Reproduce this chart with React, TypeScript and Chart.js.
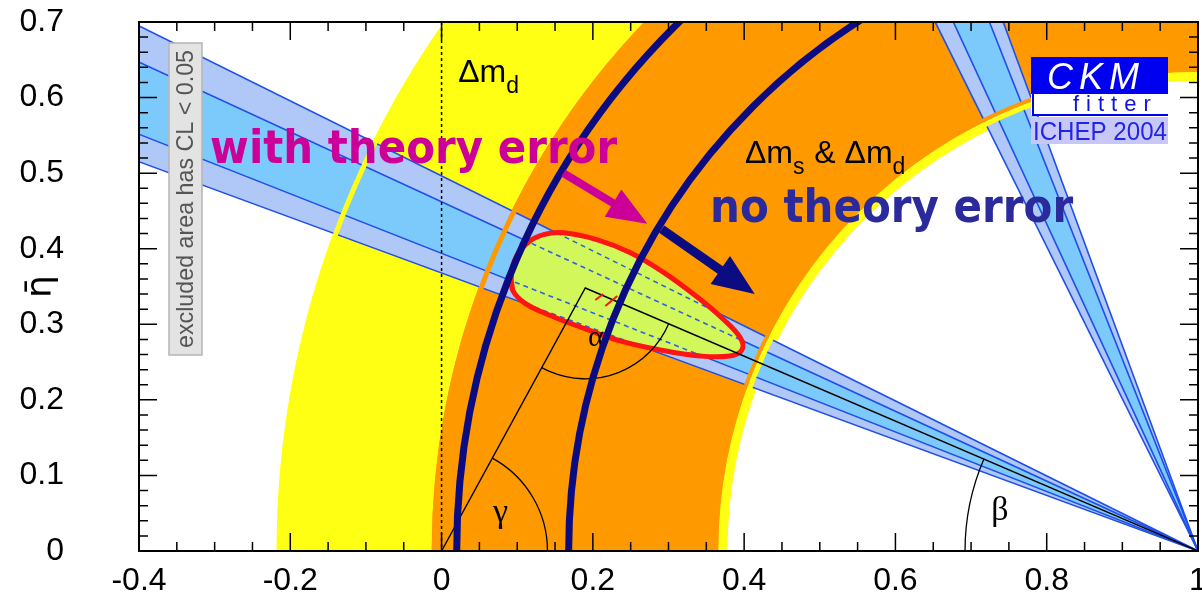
import { useEffect, useRef } from 'react';
import { Chart, registerables } from 'chart.js';

Chart.register(...registerables);

// ρ̄ / η̄ axis tick values
const rhoTicks = [-0.4, -0.2, 0, 0.2, 0.4, 0.6, 0.8, 1];
const etaTicks = [0, 0.1, 0.2, 0.3, 0.4, 0.5, 0.6, 0.7];

// sin2β: β (degrees) at the edges of the outer and inner bands
const betaOuter = [20.2, 26.4];
const betaInner = [21.5, 24.8];

// Δm_d (yellow) and Δm_s & Δm_d (orange) annuli around (1, 0): inner / outer radius
const dmdRing = [0.622, 1.218];
const dmsRing = [0.634, 1.013];
// Δm_s & Δm_d without theory error: bounding circles around (1, 0)
const noTheoryRadii = [0.832, 0.98];

// apex of the unitarity triangle
const apexRho = 0.19;
const apexEta = 0.348;

// global fit contour (with theory error)
const contourRho = [0.092, 0.099, 0.115, 0.136, 0.161, 0.205, 0.249, 0.293, 0.338, 0.371, 0.395, 0.397, 0.381, 0.342, 0.289, 0.236, 0.19, 0.143, 0.11, 0.094];
const contourEta = [0.366, 0.39, 0.409, 0.419, 0.421, 0.412, 0.395, 0.369, 0.336, 0.308, 0.282, 0.266, 0.258, 0.258, 0.266, 0.278, 0.294, 0.312, 0.328, 0.345];

// radii of the α, β, γ angle markers
const alphaArc = 0.12;
const betaArc = 0.308;
const gammaArc = 0.14;

const YELLOW = '#ffff14';
const ORANGE = '#ff9900';
const LIGHT = '#b0c8f8';
const SKY = '#7ccafc';
const EDGE = '#1f4fe8';
const NAVY = '#0b0b82';
const RED = '#ff1414';
const FIT_FILL = '#d2f75a';
const MAGENTA = '#cc0099';
const TEXT_NAVY = '#2a2a9c';
const CLEAR = 'rgba(0,0,0,0)';

const RAD = Math.PI / 180;
const corner = { x: 1, y: 0 };
const ray = (deg: number, len: number) => ({ x: 1 - len * Math.cos(deg * RAD), y: len * Math.sin(deg * RAD) });
const wedge = (a: number, b: number, len: number) => [corner, ray(a, len), ray(b, len), corner];

const datasets: any[] = [];
const addFill = (pts: any[], color: string) =>
  datasets.push({ data: pts, fill: 'shape', backgroundColor: color, borderColor: CLEAR, borderWidth: 0, pointRadius: 0, tension: 0 });
const addLine = (pts: any[], color: string, width: number) =>
  datasets.push({ data: pts, fill: false, borderColor: color, borderWidth: width, pointRadius: 0, tension: 0 });

// main sin2β band and its mirror solution (90° − β)
addFill(wedge(betaOuter[0], betaOuter[1], 2), LIGHT);
addFill(wedge(90 - betaOuter[0], 90 - betaOuter[1], 1), LIGHT);
addFill(wedge(betaInner[0], betaInner[1], 2), SKY);
addFill(wedge(90 - betaInner[0], 90 - betaInner[1], 1), SKY);
for (const b of [...betaOuter, ...betaInner]) {
  addLine([corner, ray(b, 2)], EDGE, 1.6);
  addLine([corner, ray(90 - b, 1)], EDGE, 1.6);
}
const EDGE_LAST = datasets.length - 1;

const contour = contourRho.map((x, i) => ({ x, y: contourEta[i] }));
const contourLoop = [contour[contour.length - 1], ...contour, contour[0]];
datasets.push({ data: contourLoop, fill: 'shape', backgroundColor: FIT_FILL, borderColor: CLEAR, borderWidth: 0, pointRadius: 0, tension: 0.4 });
const CONTOUR_FILL = datasets.length - 1;
datasets.push({ data: contourLoop, fill: false, borderColor: RED, borderWidth: 5, pointRadius: 0, tension: 0.4 });
// unitarity triangle
addLine([{ x: 0, y: 0 }, { x: apexRho, y: apexEta }, corner], '#000', 1.4);
datasets.forEach((d, i) => { d.order = -i; d.clip = 0; });

function geo(chart: any) {
  const X = chart.scales.x;
  const Y = chart.scales.y;
  const px = (r: number) => X.getPixelForValue(r);
  const py = (e: number) => Y.getPixelForValue(e);
  return { px, py, kx: px(1) - px(0), ky: py(0) - py(1), a: chart.chartArea, ctx: chart.ctx as CanvasRenderingContext2D };
}

function clipArea(ctx: CanvasRenderingContext2D, a: any) {
  ctx.beginPath();
  ctx.rect(a.left, a.top, a.right - a.left, a.bottom - a.top);
  ctx.clip();
}

function drawRings(chart: any) {
  const { px, py, kx, ky, a, ctx } = geo(chart);
  const cx = px(1), cy = py(0);
  ctx.save();
  clipArea(ctx, a);
  const ring = (r: number[], color: string) => {
    ctx.beginPath();
    ctx.moveTo(cx + r[1] * kx, cy);
    ctx.ellipse(cx, cy, r[1] * kx, r[1] * ky, 0, 0, Math.PI * 2);
    ctx.moveTo(cx + r[0] * kx, cy);
    ctx.ellipse(cx, cy, r[0] * kx, r[0] * ky, 0, 0, Math.PI * 2);
    ctx.fillStyle = color;
    ctx.fill('evenodd');
  };
  ring(dmdRing, YELLOW);
  ring(dmsRing, ORANGE);
  ctx.restore();
}

function drawRingEdges(chart: any) {
  const { px, py, kx, ky, a, ctx } = geo(chart);
  const cx = px(1), cy = py(0);
  ctx.save();
  clipArea(ctx, a);
  const edge = (r: number, off: number, color: string, w: number) => {
    ctx.beginPath();
    ctx.ellipse(cx, cy, r * kx + off, r * ky + off, 0, 0, Math.PI * 2);
    ctx.strokeStyle = color;
    ctx.lineWidth = w;
    ctx.stroke();
  };
  edge(dmdRing[1], -2.5, YELLOW, 5);
  edge(dmsRing[1], -2.5, ORANGE, 5);
  edge(dmsRing[0], 2, ORANGE, 4);
  edge(dmsRing[0], -2.5, YELLOW, 5);
  ctx.restore();
}

function drawDashedInside(chart: any, meta: any) {
  const { px, py, a, ctx } = geo(chart);
  ctx.save();
  clipArea(ctx, a);
  ctx.beginPath();
  const el = meta.dataset;
  if (el && typeof el.path === 'function') {
    el.path(ctx);
  } else {
    meta.data.forEach((p: any, i: number) => (i ? ctx.lineTo(p.x, p.y) : ctx.moveTo(p.x, p.y)));
  }
  ctx.closePath();
  ctx.clip();
  ctx.strokeStyle = '#2f5fe6';
  ctx.lineWidth = 1.6;
  ctx.setLineDash([5, 4]);
  for (const b of [...betaOuter, ...betaInner]) {
    const far = ray(b, 2);
    ctx.beginPath();
    ctx.moveTo(px(1), py(0));
    ctx.lineTo(px(far.x), py(far.y));
    ctx.stroke();
  }
  ctx.restore();
}

function arrow(ctx: CanvasRenderingContext2D, x0: number, y0: number, x1: number, y1: number, color: string, w: number, headLen: number, headW: number) {
  const ang = Math.atan2(y1 - y0, x1 - x0);
  const len = Math.hypot(x1 - x0, y1 - y0);
  ctx.save();
  ctx.translate(x0, y0);
  ctx.rotate(ang);
  ctx.fillStyle = color;
  ctx.beginPath();
  ctx.moveTo(0, -w / 2);
  ctx.lineTo(len - headLen, -w / 2);
  ctx.lineTo(len - headLen, -headW);
  ctx.lineTo(len, 0);
  ctx.lineTo(len - headLen, headW);
  ctx.lineTo(len - headLen, w / 2);
  ctx.lineTo(0, w / 2);
  ctx.closePath();
  ctx.fill();
  ctx.restore();
}

function subLabel(ctx: CanvasRenderingContext2D, parts: [string, boolean][], x: number, y: number) {
  let cx = x;
  ctx.fillStyle = '#000';
  ctx.textAlign = 'left';
  ctx.textBaseline = 'alphabetic';
  for (const [t, sub] of parts) {
    ctx.font = sub ? '23px "Liberation Sans", Arial, sans-serif' : '32px "Liberation Sans", Arial, sans-serif';
    ctx.fillText(t, cx, sub ? y + 11 : y);
    cx += ctx.measureText(t).width + (sub ? 1 : 0);
  }
}

function drawOverlay(chart: any) {
  const { px, py, kx, ky, a, ctx } = geo(chart);
  ctx.save();
  clipArea(ctx, a);

  // ρ̄ = 0 guide
  ctx.save();
  ctx.strokeStyle = '#000';
  ctx.lineWidth = 1.5;
  ctx.setLineDash([3, 3]);
  ctx.beginPath();
  ctx.moveTo(px(0), a.top);
  ctx.lineTo(px(0), a.bottom);
  ctx.stroke();
  ctx.restore();

  // angle markers
  const ox = px(0), oy = py(0);
  const ax = px(apexRho), ay = py(apexEta);
  const bx = px(1), by = py(0);
  ctx.strokeStyle = '#000';
  ctx.lineWidth = 1.3;
  ctx.beginPath();
  ctx.arc(ox, oy, gammaArc * kx, Math.atan2(ay - oy, ax - ox), 0, false);
  ctx.stroke();
  ctx.beginPath();
  ctx.arc(ax, ay, alphaArc * kx, Math.atan2(by - ay, bx - ax), Math.atan2(oy - ay, ox - ax), false);
  ctx.stroke();
  let bEnd = Math.atan2(ay - by, ax - bx);
  if (bEnd < 0) bEnd += Math.PI * 2;
  ctx.beginPath();
  ctx.arc(bx, by, betaArc * kx, Math.PI, bEnd, false);
  ctx.stroke();

  ctx.fillStyle = '#000';
  ctx.textAlign = 'center';
  ctx.textBaseline = 'middle';
  ctx.font = '30px "Liberation Serif", "Times New Roman", serif';
  ctx.fillText('α', px(0.204), py(0.282));
  ctx.font = '34px "Liberation Serif", "Times New Roman", serif';
  ctx.fillText('β', px(0.738), py(0.053));
  ctx.fillText('γ', px(0.078), py(0.05));

  // Δm_s & Δm_d without theory error
  ctx.strokeStyle = NAVY;
  ctx.lineWidth = 7;
  for (const r of noTheoryRadii) {
    ctx.beginPath();
    ctx.ellipse(bx, by, r * kx, r * ky, 0, 0, Math.PI * 2);
    ctx.stroke();
  }

  // marks near the apex
  ctx.strokeStyle = RED;
  ctx.lineWidth = 2;
  ctx.beginPath();
  ctx.moveTo(ax + 10, ay + 12);
  ctx.lineTo(ax + 18, ay + 6);
  ctx.moveTo(ax + 20, ay + 18);
  ctx.lineTo(ax + 32, ay + 8);
  ctx.stroke();

  // arrows
  arrow(ctx, px(0.161), py(0.5), px(0.272), py(0.433), MAGENTA, 8, 40, 16);
  arrow(ctx, px(0.291), py(0.426), px(0.414), py(0.34), NAVY, 9, 42, 17);

  // labels
  subLabel(ctx, [['Δm', false], ['d', true]], px(0.022), py(0.62));
  subLabel(ctx, [['Δm', false], ['s', true], [' & Δm', false], ['d', true]], px(0.401), py(0.513));

  ctx.textAlign = 'left';
  ctx.textBaseline = 'alphabetic';
  ctx.font = 'bold 46px "DejaVu Sans", sans-serif';
  ctx.fillStyle = MAGENTA;
  ctx.fillText('with theory error', px(-0.306), py(0.513), 407);
  ctx.fillStyle = TEXT_NAVY;
  ctx.fillText('no theory error', px(0.355), py(0.435), 363);

  // excluded-area note
  const bxl = a.left + 30, bxt = a.top + 21;
  ctx.fillStyle = '#e3e3e3';
  ctx.fillRect(bxl, bxt, 33, 312);
  ctx.strokeStyle = '#b5b5b5';
  ctx.lineWidth = 1.5;
  ctx.strokeRect(bxl, bxt, 33, 312);
  ctx.save();
  ctx.translate(bxl + 17, bxt + 156);
  ctx.rotate(-Math.PI / 2);
  ctx.fillStyle = '#555';
  ctx.textAlign = 'center';
  ctx.textBaseline = 'middle';
  ctx.font = '24px "Liberation Sans", Arial, sans-serif';
  ctx.fillText('excluded area has CL < 0.05', 0, 0, 298);
  ctx.restore();

  // CKMfitter badge
  const lx = a.right - 167, lw = 137, ly = a.top + 35;
  ctx.fillStyle = '#0000f0';
  ctx.fillRect(lx, ly, lw, 37);
  ctx.fillStyle = '#fff';
  ctx.fillRect(lx, ly + 37, lw, 21);
  ctx.strokeStyle = '#0000f0';
  ctx.lineWidth = 2;
  ctx.beginPath();
  ctx.moveTo(lx + 2, ly + 37);
  ctx.lineTo(lx + 2, ly + 58);
  ctx.lineTo(lx + lw, ly + 58);
  ctx.stroke();
  ctx.fillStyle = '#c8c8f8';
  ctx.fillRect(lx, ly + 60, lw, 27);
  ctx.textAlign = 'left';
  ctx.textBaseline = 'alphabetic';
  (ctx as any).letterSpacing = '6px';
  ctx.fillStyle = '#fff';
  ctx.font = 'italic 36px "Liberation Sans", Arial, sans-serif';
  ctx.fillText('CKM', lx + 16, ly + 32);
  (ctx as any).letterSpacing = '7px';
  ctx.fillStyle = '#1010e0';
  ctx.font = '22px "Liberation Sans", Arial, sans-serif';
  ctx.fillText('fitter', lx + 42, ly + 54);
  (ctx as any).letterSpacing = '0px';
  ctx.fillStyle = '#2424e8';
  ctx.font = '25px "Liberation Sans", Arial, sans-serif';
  ctx.fillText('ICHEP 2004', lx + 2, ly + 83, 134);

  ctx.restore();
}

function drawFrame(chart: any) {
  const { px, py, a, ctx } = geo(chart);
  ctx.save();
  ctx.strokeStyle = '#000';
  ctx.lineWidth = 1.5;
  ctx.beginPath();
  for (let i = 0; i <= 28; i++) {
    const x = px(-0.4 + i * 0.05);
    const len = i % 4 === 0 ? 18 : 9;
    ctx.moveTo(x, a.bottom);
    ctx.lineTo(x, a.bottom - len);
    ctx.moveTo(x, a.top);
    ctx.lineTo(x, a.top + len);
  }
  for (let j = 0; j <= 35; j++) {
    const y = py(j * 0.02);
    const len = j % 5 === 0 ? 18 : 9;
    ctx.moveTo(a.left, y);
    ctx.lineTo(a.left + len, y);
    ctx.moveTo(a.right, y);
    ctx.lineTo(a.right - len, y);
  }
  ctx.stroke();
  ctx.lineWidth = 2;
  ctx.strokeRect(a.left, a.top, a.right - a.left, a.bottom - a.top);
  ctx.restore();
}

const overlay = {
  id: 'ckmOverlay',
  beforeDatasetsDraw(chart: any) {
    drawRings(chart);
  },
  afterDatasetDraw(chart: any, args: any) {
    if (args.index === EDGE_LAST) drawRingEdges(chart);
    if (args.index === CONTOUR_FILL) drawDashedInside(chart, args.meta);
  },
  afterDatasetsDraw(chart: any) {
    drawOverlay(chart);
  },
  afterDraw(chart: any) {
    drawFrame(chart);
  },
};

const fmt = (v: number) => String(Math.round(v * 10) / 10);
const tickFont = { family: '"Liberation Sans", Arial, sans-serif', size: 32 };

export default function App() {
  const ref = useRef<HTMLCanvasElement>(null);
  useEffect(() => {
    if (!ref.current) return;
    const chart = new Chart(ref.current, {
      type: 'line',
      data: { datasets },
      options: {
        responsive: false,
        animation: false,
        devicePixelRatio: 1,
        events: [],
        layout: { padding: { top: 22, right: 4, left: 0, bottom: 0 } },
        plugins: { legend: { display: false }, tooltip: { enabled: false } },
        scales: {
          x: {
            type: 'linear',
            min: rhoTicks[0],
            max: rhoTicks[rhoTicks.length - 1],
            grid: { display: false, drawTicks: false },
            border: { display: false },
            afterBuildTicks: (s: any) => { s.ticks = rhoTicks.map((value) => ({ value })); },
            afterFit: (s: any) => { s.height = 56; s.paddingLeft = 0; s.paddingRight = 0; },
            ticks: { padding: 11, color: '#000', font: tickFont, maxRotation: 0, autoSkip: false, callback: (v: any) => fmt(Number(v)) },
          },
          y: {
            type: 'linear',
            min: etaTicks[0],
            max: etaTicks[etaTicks.length - 1],
            grid: { display: false, drawTicks: false },
            border: { display: false },
            afterBuildTicks: (s: any) => { s.ticks = etaTicks.map((value) => ({ value })); },
            afterFit: (s: any) => { s.width = 139; s.paddingTop = 0; s.paddingBottom = 0; },
            ticks: { padding: 75, color: '#000', font: tickFont, autoSkip: false, callback: (v: any) => fmt(Number(v)) },
            title: { display: true, text: 'η̄', color: '#000', font: { family: '"DejaVu Sans", sans-serif', size: 36 }, padding: { top: 20, bottom: 0 } },
          },
        },
      },
      plugins: [overlay],
    } as any);
    return () => chart.destroy();
  }, []);
  return (
    <div style={{ position: 'fixed', left: 0, top: 0, width: 1202, height: 607, background: '#fff' }}>
      <canvas ref={ref} width={1202} height={607} style={{ display: 'block' }} />
    </div>
  );
}
